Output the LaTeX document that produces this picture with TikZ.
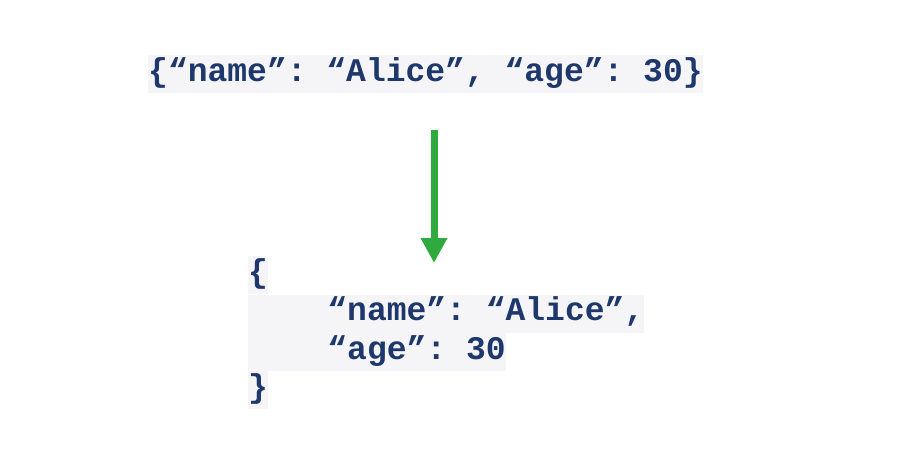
\documentclass[tikz,border=0pt]{standalone}
\usepackage{fontspec}
\newfontfamily\codefont{Liberation Mono}
\usepackage{tikz}
\usetikzlibrary{arrows.meta}
\definecolor{codeblue}{RGB}{31,56,107}
\definecolor{codegray}{RGB}{245,245,248}
\definecolor{arrowgreen}{RGB}{46,170,62}

\begin{document}
\begin{tikzpicture}[x=1pt,y=-1pt,
        codeline/.style={fill=codegray, text=codeblue, inner xsep=0pt, inner ysep=0pt,
            text height=26pt, text depth=12pt, anchor=north west,
            font=\codefont\bfseries\fontsize{33}{38}\selectfont\frenchspacing}]
        \useasboundingbox (0,0) rectangle (899,465);
        % one-line object
        \node[codeline] (flat) at (148,55) {\{“name”: “Alice”, “age”: 30\}};
        % pretty-printed object
        \node[codeline] (open) at (248,256) {\{};
        \node[codeline] (name) at (open.south west) {\phantom{0000}“name”: “Alice”,};
        \node[codeline] (age) at (name.south west) {\phantom{0000}“age”: 30};
        \node[codeline] (close) at (age.south west) {\}};
        \coordinate (from) at (434,130);
        \coordinate (to) at (434,263);
        \draw[arrowgreen, line width=7pt, -{Triangle[width=25pt,length=25pt]}] (from) -- (to);
    \end{tikzpicture}
\end{document}
